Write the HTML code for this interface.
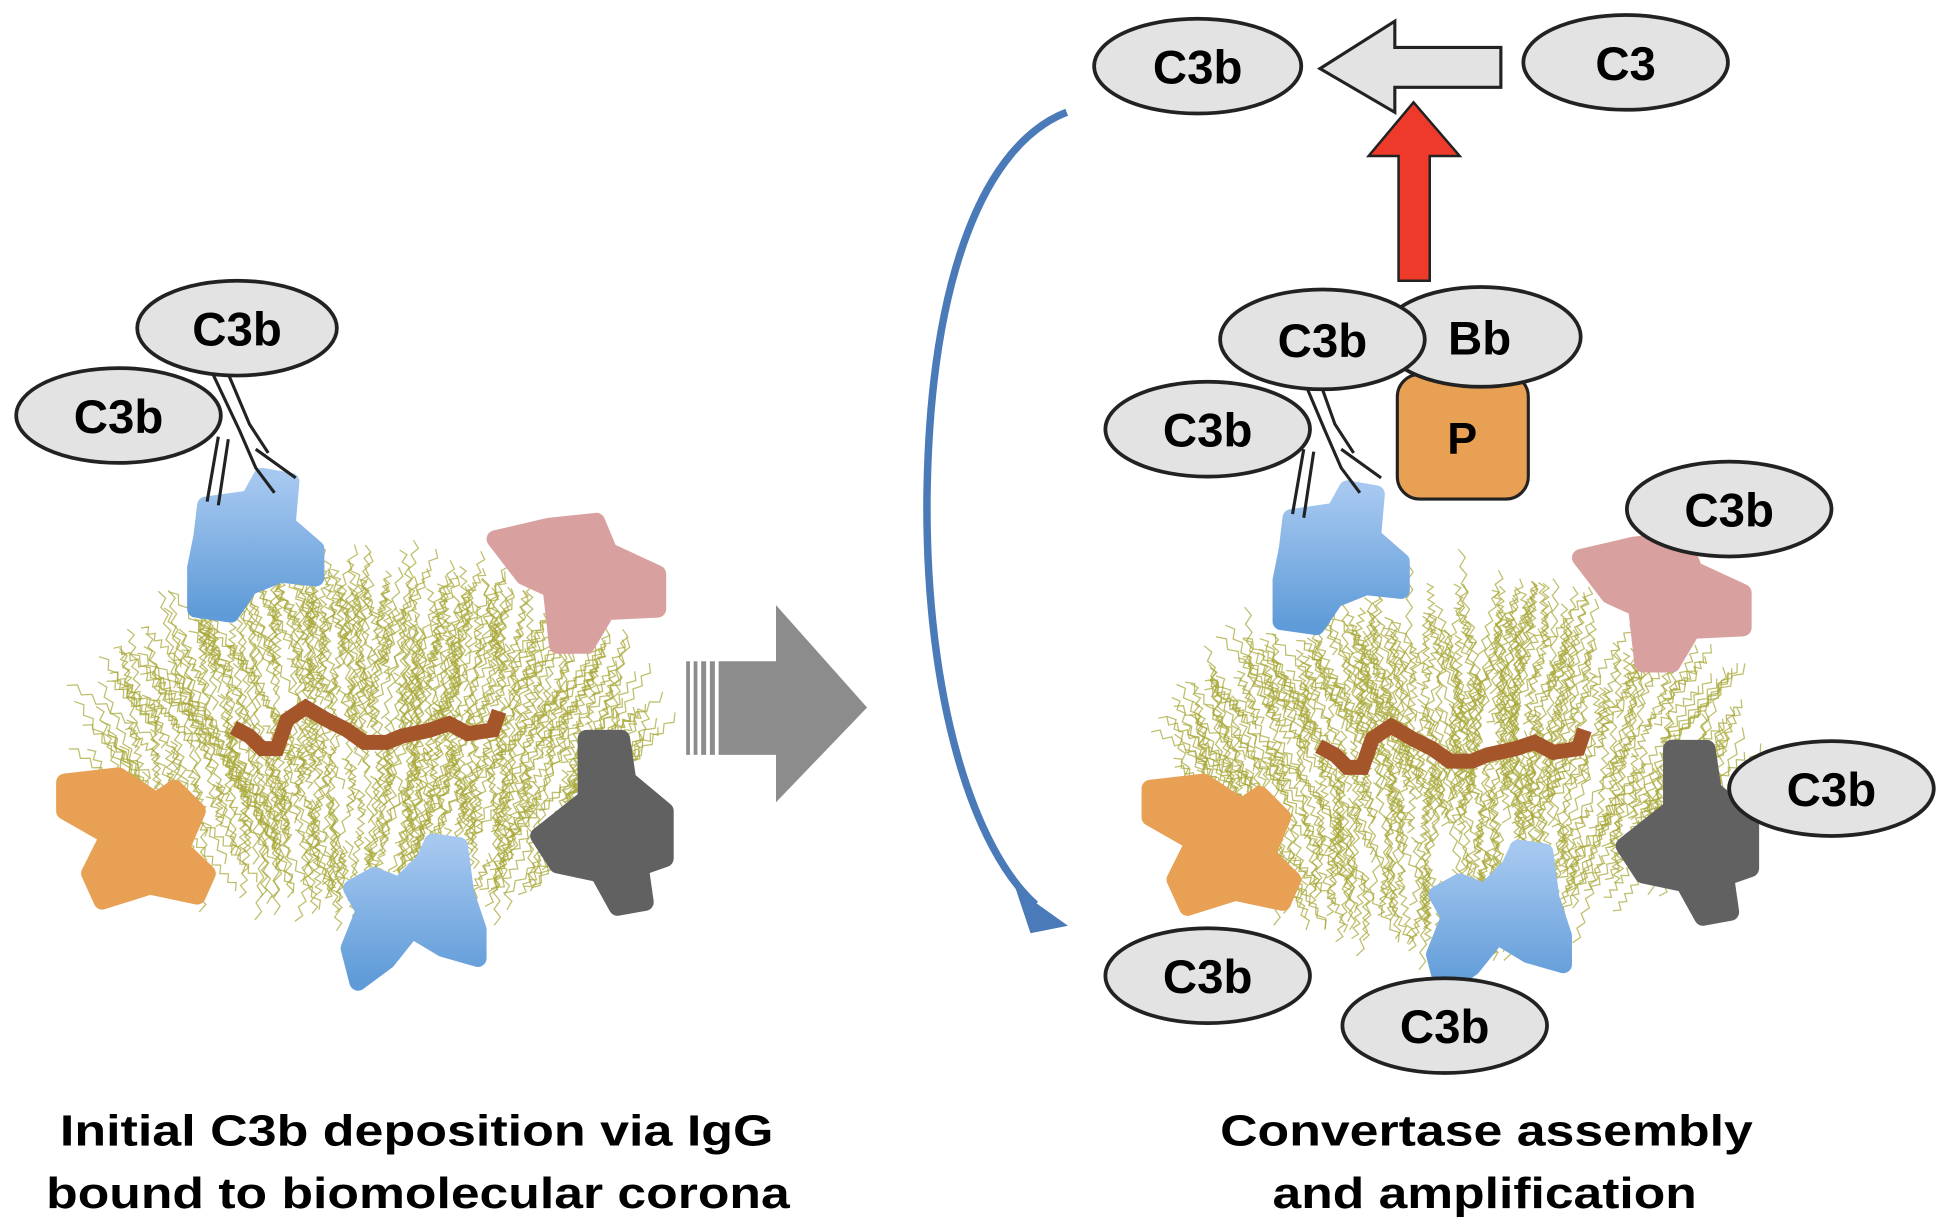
<!DOCTYPE html>
<html><head><meta charset="utf-8"><style>
html,body{margin:0;padding:0;background:#fff;}
svg{display:block;}
text{font-family:"Liberation Sans",Arial,sans-serif;font-weight:bold;}
</style></head><body>
<svg id="s" width="1950" height="1229" viewBox="0 0 1563 985" preserveAspectRatio="none" xmlns="http://www.w3.org/2000/svg">
<defs>
<linearGradient id="bg" x1="0" y1="0" x2="0" y2="1"><stop offset="0" stop-color="#a6c8f0"/><stop offset="1" stop-color="#5f9bd8"/></linearGradient>
<g id="blueA"><path d="M165,405 L200,400 L210,382 L233,386 L230,420 L253,440 L253,463 L225,460 L200,470 L185,492 L157,488 L157,455 L162,430 Z" fill="url(#bg)" stroke="url(#bg)" stroke-width="14" stroke-linejoin="round"/></g>
<g id="pink"><path d="M397,432 L440,422 L478,418 L488,442 L527,460 L527,488 L486,490 L470,517 L447,517 L442,472 L420,462 Z" fill="#d9a0a0" stroke="#d9a0a0" stroke-width="14" stroke-linejoin="round"/></g>
<g id="orange"><path d="M52,627 L95,622 L125,642 L140,632 L158,650 L145,680 L166,700 L158,718 L120,710 L82,722 L72,700 L87,670 L52,650 Z" fill="#e8a055" stroke="#e8a055" stroke-width="14" stroke-linejoin="round"/></g>
<g id="dark"><path d="M470,592 L498,592 L503,625 L533,650 L533,688 L513,695 L517,723 L495,727 L480,700 L447,693 L432,670 L470,640 Z" fill="#616161" stroke="#616161" stroke-width="14" stroke-linejoin="round"/></g>
<g id="blueB"><path d="M300,702 L320,710 L340,690 L347,675 L368,678 L373,715 L383,745 L383,768 L355,760 L330,745 L310,770 L287,787 L280,760 L292,730 L282,712 Z" fill="url(#bg)" stroke="url(#bg)" stroke-width="14" stroke-linejoin="round"/></g>
<g id="chain"><polyline points="187,583 200,590 210,600 222,600 230,577 245,567 262,577 278,585 292,595 310,595 322,590 345,585 360,580 375,588 395,585 400,570" fill="none" stroke="#a5552a" stroke-width="12" stroke-linejoin="miter"/></g>
</defs>
<g id="cloudL"></g>
<g id="cloudR"></g>
<!-- left -->
<use href="#chain"/>
<use href="#pink"/><use href="#orange"/><use href="#dark"/><use href="#blueB"/>
<use href="#blueA"/>
<g fill="none" stroke="#222" stroke-width="2.5">
<path d="M166,402 L175,350 M175,405 L183,352"/>
<path d="M166,290 L192,345 L205,375 L220,395 M178,288 L200,340 L215,363"/>
<path d="M205,360 L237,383"/>
</g>
<g stroke="#222" stroke-width="3" fill="#e3e3e3">
<ellipse cx="95" cy="333" rx="82" ry="38"/>
<ellipse cx="190" cy="263" rx="80" ry="38"/>
</g>
<text x="95" y="347" font-size="38" text-anchor="middle">C3b</text>
<text x="190" y="277" font-size="38" text-anchor="middle">C3b</text>
<text x="48" y="918" font-size="35" textLength="572" lengthAdjust="spacingAndGlyphs">Initial C3b deposition via IgG</text>
<text x="37" y="968" font-size="35" textLength="596" lengthAdjust="spacingAndGlyphs">bound to biomolecular corona</text>
<!-- middle arrow -->
<g fill="#8c8c8c">
<rect x="550" y="530" width="3" height="75"/><rect x="556" y="530" width="3" height="75"/><rect x="562" y="530" width="4" height="75"/><rect x="569" y="530" width="4" height="75"/>
<path d="M576,530 L622,530 L622,485 L695,567 L622,643 L622,605 L576,605 Z"/>
</g>
<!-- blue curved arrow -->
<path d="M855,90 C 790,115 745,220 743,400 C 742,560 780,680 830,725" fill="none" stroke="#4a7ab8" stroke-width="6"/>
<path d="M814,712 L856,742 L826,748 Z" fill="#4a7ab8"/>
<!-- right -->
<g transform="translate(870,15)"><use href="#chain"/></g>
<g transform="translate(870,15)"><use href="#pink"/></g>
<g transform="translate(870,5)"><use href="#orange"/></g>
<g transform="translate(870,8)"><use href="#dark"/></g>
<g transform="translate(870,5)"><use href="#blueB"/></g>
<g transform="translate(870,10)"><use href="#blueA"/></g>
<g fill="none" stroke="#222" stroke-width="2.5">
<path d="M1036,412 L1045,360 M1045,415 L1053,362"/>
<path d="M1043,300 L1062,345 L1075,375 L1090,395 M1055,298 L1070,340 L1085,363"/>
<path d="M1075,360 L1107,383"/>
</g>
<rect x="1120" y="300" width="105" height="100" rx="18" fill="#e8a055" stroke="#222" stroke-width="2.5"/>
<text x="1172" y="364" font-size="36" text-anchor="middle">P</text>
<g stroke="#222" stroke-width="3" fill="#e3e3e3">
<ellipse cx="1187" cy="270" rx="80" ry="40"/>
<ellipse cx="1060" cy="272" rx="82" ry="40"/>
<ellipse cx="968" cy="344" rx="82" ry="38"/>
<ellipse cx="1386" cy="408" rx="82" ry="38"/>
<ellipse cx="1468" cy="632" rx="82" ry="38"/>
<ellipse cx="968" cy="782" rx="82" ry="38"/>
<ellipse cx="1158" cy="822" rx="82" ry="38"/>
<ellipse cx="960" cy="53" rx="83" ry="38"/>
<ellipse cx="1303" cy="50" rx="82" ry="38"/>
</g>
<path d="M1203,38 L1118,38 L1118,17 L1058,55 L1118,90 L1118,70 L1203,70 Z" fill="#e3e3e3" stroke="#222" stroke-width="2.5"/>
<path d="M1121,225 L1146,225 L1146,125 L1170,125 L1133,82 L1097,125 L1121,125 Z" fill="#ee3a2a" stroke="#222" stroke-width="2"/>
<g font-size="38" text-anchor="middle">
<text x="1186" y="284">Bb</text>
<text x="1060" y="286">C3b</text>
<text x="968" y="358">C3b</text>
<text x="1386" y="422">C3b</text>
<text x="1468" y="646">C3b</text>
<text x="968" y="796">C3b</text>
<text x="1158" y="836">C3b</text>
<text x="960" y="67">C3b</text>
<text x="1303" y="64">C3</text>
</g>
<text x="978" y="918" font-size="35" textLength="427" lengthAdjust="spacingAndGlyphs">Convertase assembly</text>
<text x="1020" y="968" font-size="35" textLength="340" lengthAdjust="spacingAndGlyphs">and amplification</text>
</svg>
<script>
(function(){
var seed=7;function r(){seed=(seed*16807)%2147483647;return seed/2147483647;}
function cloud(id,cx,cy,rx,ry){
 var g=document.getElementById(id),h="";
 for(var i=0;i<600;i++){
  var a=r()*Math.PI*2,d=Math.sqrt(r());
  var x=cx+Math.cos(a)*rx*d*0.9,y=cy+Math.sin(a)*ry*d*0.9;
  var L=35+r()*50;
  var dir=-Math.PI/2+(r()-0.5)*0.9+Math.cos(a)*0.6*d;
  var pts=[];
  for(var k=0;k<=12;k++){var t=k/12*L-L/2;var w=(k%2?2.5:-2.5);
   pts.push((x+Math.cos(dir)*t-Math.sin(dir)*w).toFixed(1)+","+(y+Math.sin(dir)*t+Math.cos(dir)*w).toFixed(1));}
  h+='<polyline points="'+pts.join(" ")+'" fill="none" stroke="#a8a83a" stroke-width="1" opacity="0.75"/>';
 }
 g.innerHTML=h;
}
cloud("cloudL",300,595,245,145);
cloud("cloudR",1170,610,245,145);
})();
</script>
</body></html>
